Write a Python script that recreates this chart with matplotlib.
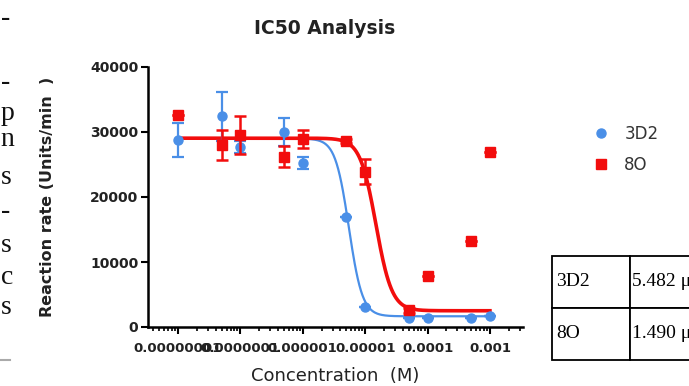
#!/usr/bin/env python3
"""IC50 analysis plot: reaction rate vs concentration for 3D2 and 8O, with fitted curves."""

import numpy as np
import matplotlib
matplotlib.use("Agg")
import matplotlib.pyplot as plt
from matplotlib.lines import Line2D

# measured points (concentration in M, reaction rate in Units/min)
CONCENTRATION_M = [1e-8, 5e-8, 1e-7, 5e-7, 1e-6, 5e-6, 1e-5, 5e-5, 1e-4, 5e-4, 1e-3]
RATE_3D2 = [28800, 32400, 27700, 30000, 25200, 17000, 3100, 1450, 1400, 1400, 1750]
ERR_3D2 = [2600, 3800, 900, 2100, 900, 0, 0, 0, 0, 0, 0]
RATE_8O = [32600, 28000, 29500, 26200, 28900, 28650, 23900, 2600, 7800, 13300, 26900]
ERR_8O = [0, 2300, 2900, 1650, 1400, 300, 1900, 400, 0, 0, 0]

# fitted 4-parameter logistic (top, bottom, IC50 in M, hill slope)
FIT_3D2 = (29000, 1650, 5.482e-6, 4.0)
FIT_8O = (29050, 2500, 1.490e-5, 3.4)

X_TICKS = [1e-8, 1e-7, 1e-6, 1e-5, 1e-4, 1e-3]
X_TICK_LABELS = ["0.00000001", "0.0000001", "0.000001", "0.00001", "0.0001", "0.001"]
Y_TICKS = [0, 10000, 20000, 30000, 40000]

TABLE_ROWS = [["3D2", "5.482 \u03bcM"], ["8O", "1.490 \u03bcM"]]

# cut-off words of the surrounding document text
MARGIN_GLYPHS = ["-", "-", "p", "n", "s", "-", "s", "c", "s"]
MARGIN_Y_PX = [18, 83, 113, 140, 177, 211, 245, 278, 308]

BLUE = "#4a8fe7"
RED = "#f20d0d"
W, H = 689, 386


def logistic(x, top, bottom, ic50, hill):
    return bottom + (top - bottom) / (1 + (x / ic50) ** hill)


def main():
    fig = plt.figure(figsize=(W / 100, H / 100), dpi=100)
    ax = fig.add_axes([148 / W, 1 - 327 / H, (523 - 148) / W, (327 - 67) / H])

    xs = np.logspace(-8, -3, 400)
    ax.plot(xs, logistic(xs, *FIT_3D2), color=BLUE, lw=1.6, zorder=2)
    ax.plot(xs, logistic(xs, *FIT_8O), color=RED, lw=2.6, zorder=3)

    ax.errorbar(CONCENTRATION_M, RATE_3D2, yerr=ERR_3D2, fmt="o", color=BLUE, ms=6.5,
                elinewidth=1.6, capsize=4.5, capthick=1.6, zorder=4, label="3D2")
    ax.errorbar(CONCENTRATION_M, RATE_8O, yerr=ERR_8O, fmt="s", color=RED, ms=7,
                elinewidth=1.8, capsize=4.5, capthick=1.8, zorder=5, label="8O")

    ax.set_xscale("log")
    ax.set_xlim(10 ** -8.48, 10 ** -2.47)
    ax.set_ylim(0, 40000)
    ax.set_xticks(X_TICKS)
    ax.set_xticklabels(X_TICK_LABELS, fontsize=9.5, fontweight="bold", color="#222222")
    ax.set_yticks(Y_TICKS)
    ax.set_yticklabels([str(v) for v in Y_TICKS], fontsize=10, fontweight="bold", color="#222222")
    ax.tick_params(axis="both", which="major", length=5, width=1.5, direction="out", pad=2)
    ax.tick_params(axis="x", which="major", pad=5.5)
    ax.tick_params(axis="x", which="minor", length=3, width=1.2)
    for side in ("top", "right"):
        ax.spines[side].set_visible(False)
    for side in ("left", "bottom"):
        ax.spines[side].set_linewidth(1.8)

    ax.set_xlabel("Concentration  (M)", fontsize=13, color="#222222", labelpad=9)
    ax.set_ylabel("Reaction rate (Units/min  )", fontsize=11.5, fontweight="bold",
                  color="#222222", labelpad=25)
    fig.text(325 / W, 1 - 28 / H, "IC50 Analysis", fontsize=13.5, fontweight="bold",
             color="#222222", ha="center", va="center")

    handles = [Line2D([], [], ls="none", marker="o", color=BLUE, ms=6.5),
               Line2D([], [], ls="none", marker="s", color=RED, ms=7)]
    fig.legend(handles, ["3D2", "8O"], loc="upper left", bbox_to_anchor=(586 / W, 1 - 117 / H),
               frameon=False, fontsize=12, borderpad=0, handlelength=0.8,
               handletextpad=1.0, labelspacing=0.75, labelcolor="#333333")

    # table on the right, cut off by the page edge
    tab_ax = fig.add_axes([552 / W, 1 - 360 / H, 200 / W, 104 / H])
    tab_ax.axis("off")
    table = tab_ax.table(cellText=TABLE_ROWS, colWidths=[78 / 200, 122 / 200],
                         cellLoc="left", bbox=[0, 0, 1, 1])
    table.auto_set_font_size(False)
    for (row, col), cell in table.get_celld().items():
        cell.set_linewidth(1.3)
        cell.PAD = 0.05 if col == 0 else 0.02
        cell.get_text().set_fontsize(14)
        cell.get_text().set_fontfamily("Liberation Serif")

    for glyph, y in zip(MARGIN_GLYPHS, MARGIN_Y_PX):
        fig.text(0.5 / W, 1 - y / H, glyph, fontsize=20, family="Liberation Serif",
                 ha="left", va="center", color="#111111")
    fig.add_artist(Line2D([0, 10 / W], [1 - 360 / H] * 2, color="#aaaaaa", lw=1.5))

    fig.savefig("out.png", dpi=100)


if __name__ == "__main__":
    main()
